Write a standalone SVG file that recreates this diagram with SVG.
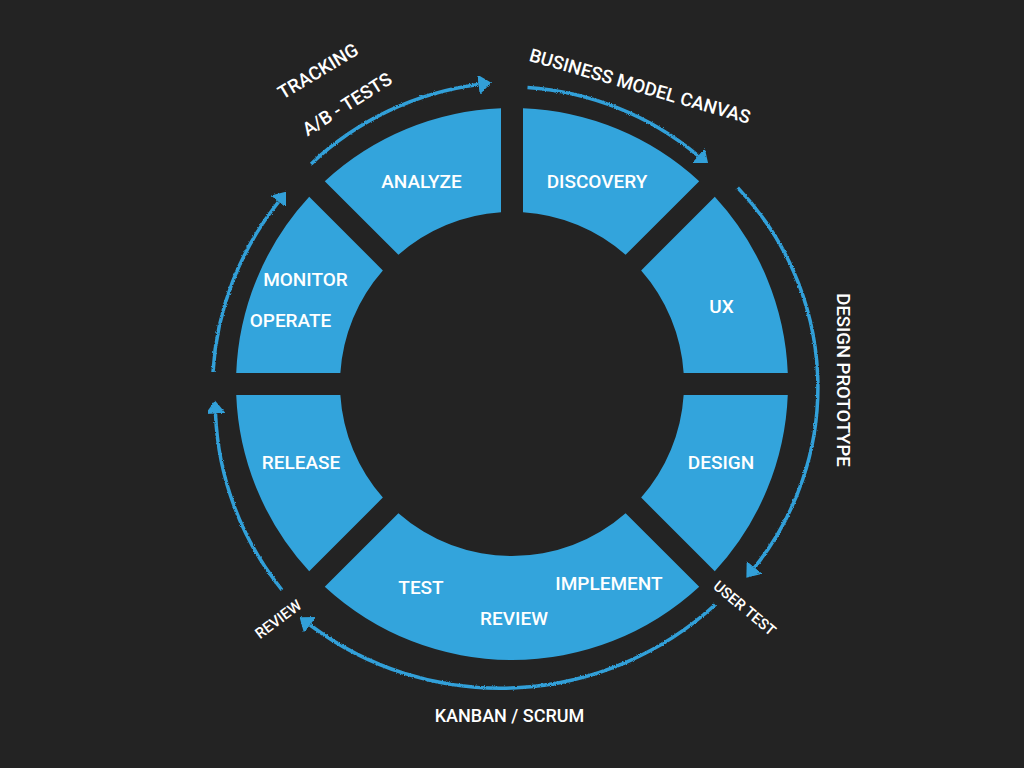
<svg xmlns="http://www.w3.org/2000/svg" width="1024" height="768" viewBox="0 0 1024 768">
<defs>
<style>
.seg{fill:#33a4dc}
.lbl{font-family:Roboto,"Liberation Sans",sans-serif;font-weight:500;font-size:19px;fill:#ffffff;text-anchor:middle}
.olbl{font-family:Roboto,"Liberation Sans",sans-serif;font-weight:500;font-size:18.5px;fill:#ffffff;text-anchor:middle}
.sm{font-size:15px}
.arc{fill:none;stroke:#30a0d9;stroke-width:3.5;marker-end:url(#ah);filter:url(#chalk)}
</style>
<marker id="ah" markerUnits="userSpaceOnUse" markerWidth="16" markerHeight="24" viewBox="0 -12 16 24" refX="0" refY="0" orient="auto">
<path d="M0,-10 L13,0 L0,10 Z" fill="#30a0d9"/>
</marker>
<filter id="chalk" x="-10%" y="-10%" width="120%" height="120%">
<feTurbulence type="fractalNoise" baseFrequency="0.9" numOctaves="2" seed="3" result="n"/>
<feDisplacementMap in="SourceGraphic" in2="n" scale="2.5" xChannelSelector="R" yChannelSelector="G"/>
</filter>
</defs>
<rect width="1024" height="768" fill="#232323"/>

<g id="connectors">
<g id="arc-tracking">
<path class="arc" d="M311.1,163.9 A300,300 0 0 1 478.5,84.5"/>
<text class="olbl" transform="translate(318,71) rotate(-31)" y="6.5">TRACKING</text>
<text class="olbl" transform="translate(347,104) rotate(-32)" y="6.5">A/B - TESTS</text>
</g>
<g id="arc-bmc">
<path class="arc" d="M527.5,87.4 A298,298 0 0 1 698.3,155.8"/>
<text class="olbl" transform="translate(640,86) rotate(16)" y="6.5">BUSINESS MODEL CANVAS</text>
</g>
<g id="arc-design-prototype">
<path class="arc" d="M737.7,187.8 A288,288 0 0 1 754.5,567.5"/>
<text class="olbl" transform="translate(843,380) rotate(90)" y="6.5">DESIGN PROTOTYPE</text>
</g>
<g id="arc-kanban">
<path class="arc" d="M715.1,604.8 A318,318 0 0 1 310,625"/>
<text class="olbl sm" transform="translate(745,608) rotate(40)" y="5.5">USER TEST</text>
<text class="olbl" x="509.5" y="722" style="font-size:18px">KANBAN / SCRUM</text>
</g>
<g id="arc-review">
<path class="arc" d="M282,590 A300,300 0 0 1 215.5,413.5"/>
<text class="olbl sm" transform="translate(278,619) rotate(-37)" y="5.5">REVIEW</text>
</g>
<g id="arc-monitor">
<path class="arc" d="M213,372 A300,300 0 0 1 278.7,201.7"/>
</g>
</g>

<g id="node-discovery">
<path class="seg" d="M523,108.22 A276,276 0 0 1 699.23,181.21 L625.59,254.85 A172,172 0 0 0 523,212.35 Z"/>
<text class="lbl" x="597" y="188">DISCOVERY</text>
</g>
<g id="node-ux">
<path class="seg" d="M714.79,196.77 A276,276 0 0 1 787.78,373 L683.65,373 A172,172 0 0 0 641.15,270.41 Z"/>
<text class="lbl" x="721.5" y="313">UX</text>
</g>
<g id="node-design">
<path class="seg" d="M787.78,395 A276,276 0 0 1 714.79,571.23 L641.15,497.59 A172,172 0 0 0 683.65,395 Z"/>
<text class="lbl" x="721" y="469">DESIGN</text>
</g>
<g id="node-implement">
<path class="seg" d="M699.23,586.79 A276,276 0 0 1 324.77,586.79 L398.41,513.15 A172,172 0 0 0 625.59,513.15 Z"/>
<text class="lbl" x="421" y="594">TEST</text>
<text class="lbl" x="609" y="590">IMPLEMENT</text>
<text class="lbl" x="514" y="625">REVIEW</text>
</g>
<g id="node-release">
<path class="seg" d="M309.21,571.23 A276,276 0 0 1 236.22,395 L340.35,395 A172,172 0 0 0 382.85,497.59 Z"/>
<text class="lbl" x="301" y="469">RELEASE</text>
</g>
<g id="node-operate">
<path class="seg" d="M236.22,373 A276,276 0 0 1 309.21,196.77 L382.85,270.41 A172,172 0 0 0 340.35,373 Z"/>
<text class="lbl" x="305.5" y="286">MONITOR</text>
<text class="lbl" x="290.5" y="327">OPERATE</text>
</g>
<g id="node-analyze">
<path class="seg" d="M324.77,181.21 A276,276 0 0 1 501,108.22 L501,212.35 A172,172 0 0 0 398.41,254.85 Z"/>
<text class="lbl" x="421.5" y="188">ANALYZE</text>
</g>
</svg>
